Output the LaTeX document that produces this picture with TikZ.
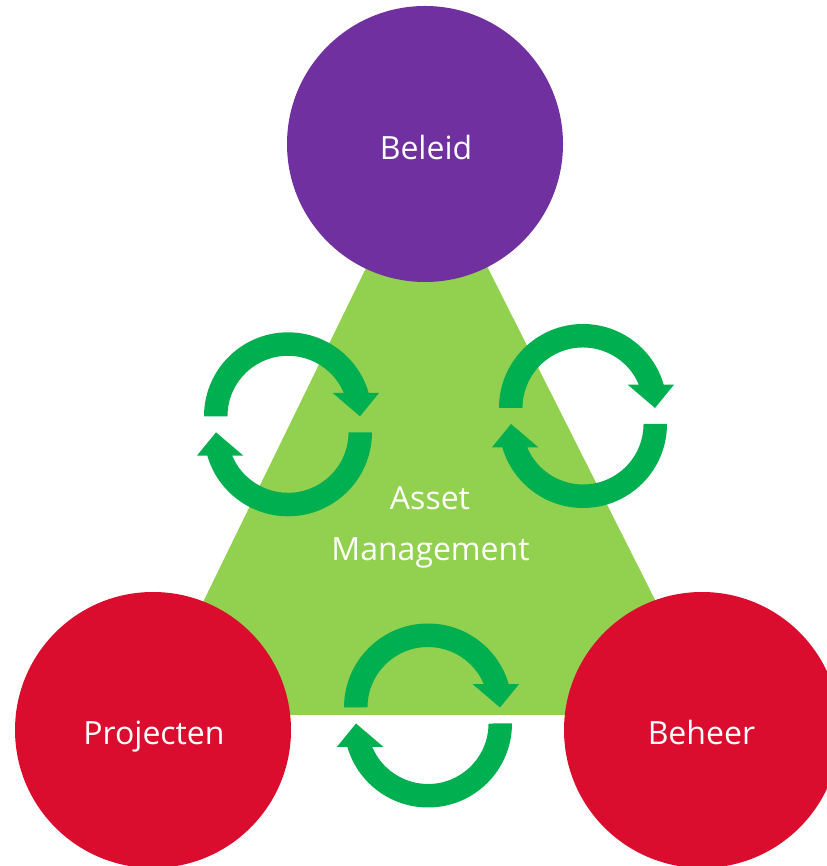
\documentclass[tikz,border=0pt]{standalone}
\usepackage{fontspec}
\setmainfont{Open Sans}
\definecolor{beleidpurple}{RGB}{112,48,160}
\definecolor{redcircle}{RGB}{218,13,46}
\definecolor{trigreen}{RGB}{146,208,80}
\definecolor{arrowgreen}{RGB}{0,176,80}
\begin{document}
\begin{tikzpicture}[x=1pt,y=1pt,
  bigcircle/.style={circle,minimum size=276pt,inner sep=0pt,draw=none},
  lbl/.style={text=white,font=\fontsize{32}{51.7}\selectfont,anchor=base,inner sep=0pt},
  cyclearrow/.pic={
    \fill[arrowgreen] (-84,8) arc[start angle=180,end angle=16.1,radius=84]
      -- (91,31.3) -- (72,8) -- (44.7,31.3) -- (55.8,31.3)
      arc[start angle=22.65,end angle=180,radius=60.5] -- cycle;
    \fill[arrowgreen] (84,-8) arc[start angle=0,end angle=-163.9,radius=84]
      -- (-91,-31.3) -- (-72,-8) -- (-44.7,-31.3) -- (-55.8,-31.3)
      arc[start angle=-157.35,end angle=0,radius=60.5] -- cycle;
  }]
\useasboundingbox (0,0) rectangle (826,866);
\fill[trigreen] (426,721) -- (148,151) -- (713,151) -- cycle;
\node[bigcircle,fill=beleidpurple] (beleid) at (425,722) {};
\node[bigcircle,fill=redcircle] (projecten) at (153,136) {};
\node[bigcircle,fill=redcircle] (beheer) at (702,136) {};
\pic at (288,441.7) {cyclearrow};
\pic at (583,450) {cyclearrow};
\pic at (428,150.5) {cyclearrow};
\node[lbl] (tbeleid) at (426,706.7) {Beleid};
\node[lbl] (tprojecten) at (154,121.7) {Projecten};
\node[lbl] (tbeheer) at (701.4,121.7) {Beheer};
\node[lbl] (tasset) at (430,356.7) {Asset};
\node[lbl] (tmanagement) at (430.5,305) {Management};
\end{tikzpicture}
\end{document}
